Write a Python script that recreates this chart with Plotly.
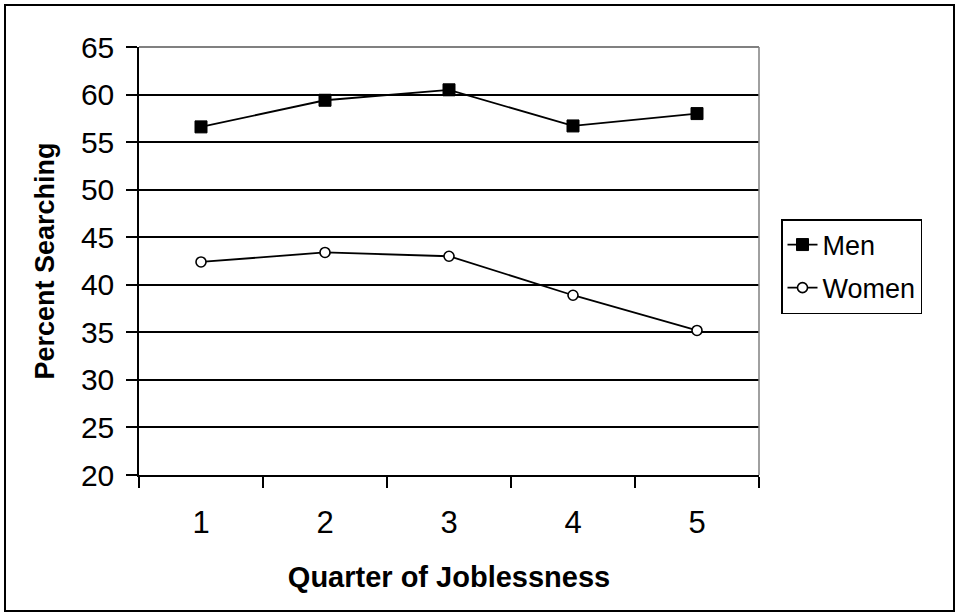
import plotly.graph_objects as go

quarters = ["1", "2", "3", "4", "5"]
men = [56.6, 59.4, 60.5, 56.7, 58.0]
women = [42.4, 43.4, 43.0, 38.9, 35.2]
y_ticks = [20, 25, 30, 35, 40, 45, 50, 55, 60, 65]

FONT = "Liberation Sans, Arial, sans-serif"

fig = go.Figure()
fig.add_trace(go.Scatter(
    x=quarters, y=men, name="Men", mode="lines+markers", legendgroup="m",
    line=dict(color="black", width=1.8),
    marker=dict(symbol="square", size=12, color="black", line=dict(color="black", width=1)),
))
fig.add_trace(go.Scatter(
    x=quarters, y=women, name="Women", mode="lines+markers", legendgroup="w",
    line=dict(color="black", width=1.8),
    marker=dict(symbol="circle", size=10, color="white", line=dict(color="black", width=1.6)),
))

L, R, T, B = 139, 196, 47, 138
W, H = 955, 613
pw, ph = W - L - R, H - T - B

def px_x(v):
    return (v - L) / pw

def px_y(v):
    return 1 - (v - T) / ph

fig.update_layout(
    width=W, height=H,
    margin=dict(l=L, r=R, t=T, b=B),
    paper_bgcolor="white", plot_bgcolor="white",
    font=dict(family=FONT, color="black"),
    showlegend=True,
    legend=dict(
        x=px_x(781), y=px_y(219), xanchor="left", yanchor="top",
        bordercolor="black", borderwidth=1.5, bgcolor="white",
        font=dict(size=27, family=FONT, color="black"),
        traceorder="grouped", tracegroupgap=5,
        entrywidth=165, entrywidthmode="pixels",
    ),
    xaxis=dict(
        type="category", range=[-0.5, 4.5],
        tickson="boundaries", ticks="outside", ticklen=11, tickwidth=1.5, tickcolor="black",
        showline=True, linecolor="black", linewidth=1.5,
        showgrid=False, zeroline=False,
        tickfont=dict(size=31, family=FONT, color="black"),
        ticklabelstandoff=19,
        title=dict(text="<b>Quarter of Joblessness</b>", font=dict(size=29, family=FONT, color="black"), standoff=28),
    ),
    yaxis=dict(
        range=[20, 65], tickvals=y_ticks, ticktext=[str(v) for v in y_ticks],
        ticks="outside", ticklen=11, tickwidth=1.5, tickcolor="black",
        showline=True, linecolor="black", linewidth=1.5,
        showgrid=True, gridcolor="black", gridwidth=1.5, zeroline=False,
        tickfont=dict(size=30, family=FONT, color="black"),
        ticklabelstandoff=6,
        title=dict(text="<b>Percent Searching</b>", font=dict(size=27, family=FONT, color="black"), standoff=18),
    ),
    shapes=[
        dict(type="line", xref="paper", yref="paper", x0=0, x1=1, y0=1, y1=1,
             line=dict(color="#808080", width=2), layer="above"),
        dict(type="line", xref="paper", yref="paper", x0=1, x1=1, y0=0, y1=1,
             line=dict(color="#808080", width=1.5), layer="above"),
        dict(type="rect", xref="paper", yref="paper",
             x0=px_x(5), x1=px_x(954), y0=px_y(611), y1=px_y(5),
             line=dict(color="black", width=2), fillcolor="rgba(0,0,0,0)", layer="above"),
    ],
)

fig.write_html("out.html", config={"displayModeBar": False},
               post_script="document.body.style.margin='0';")
